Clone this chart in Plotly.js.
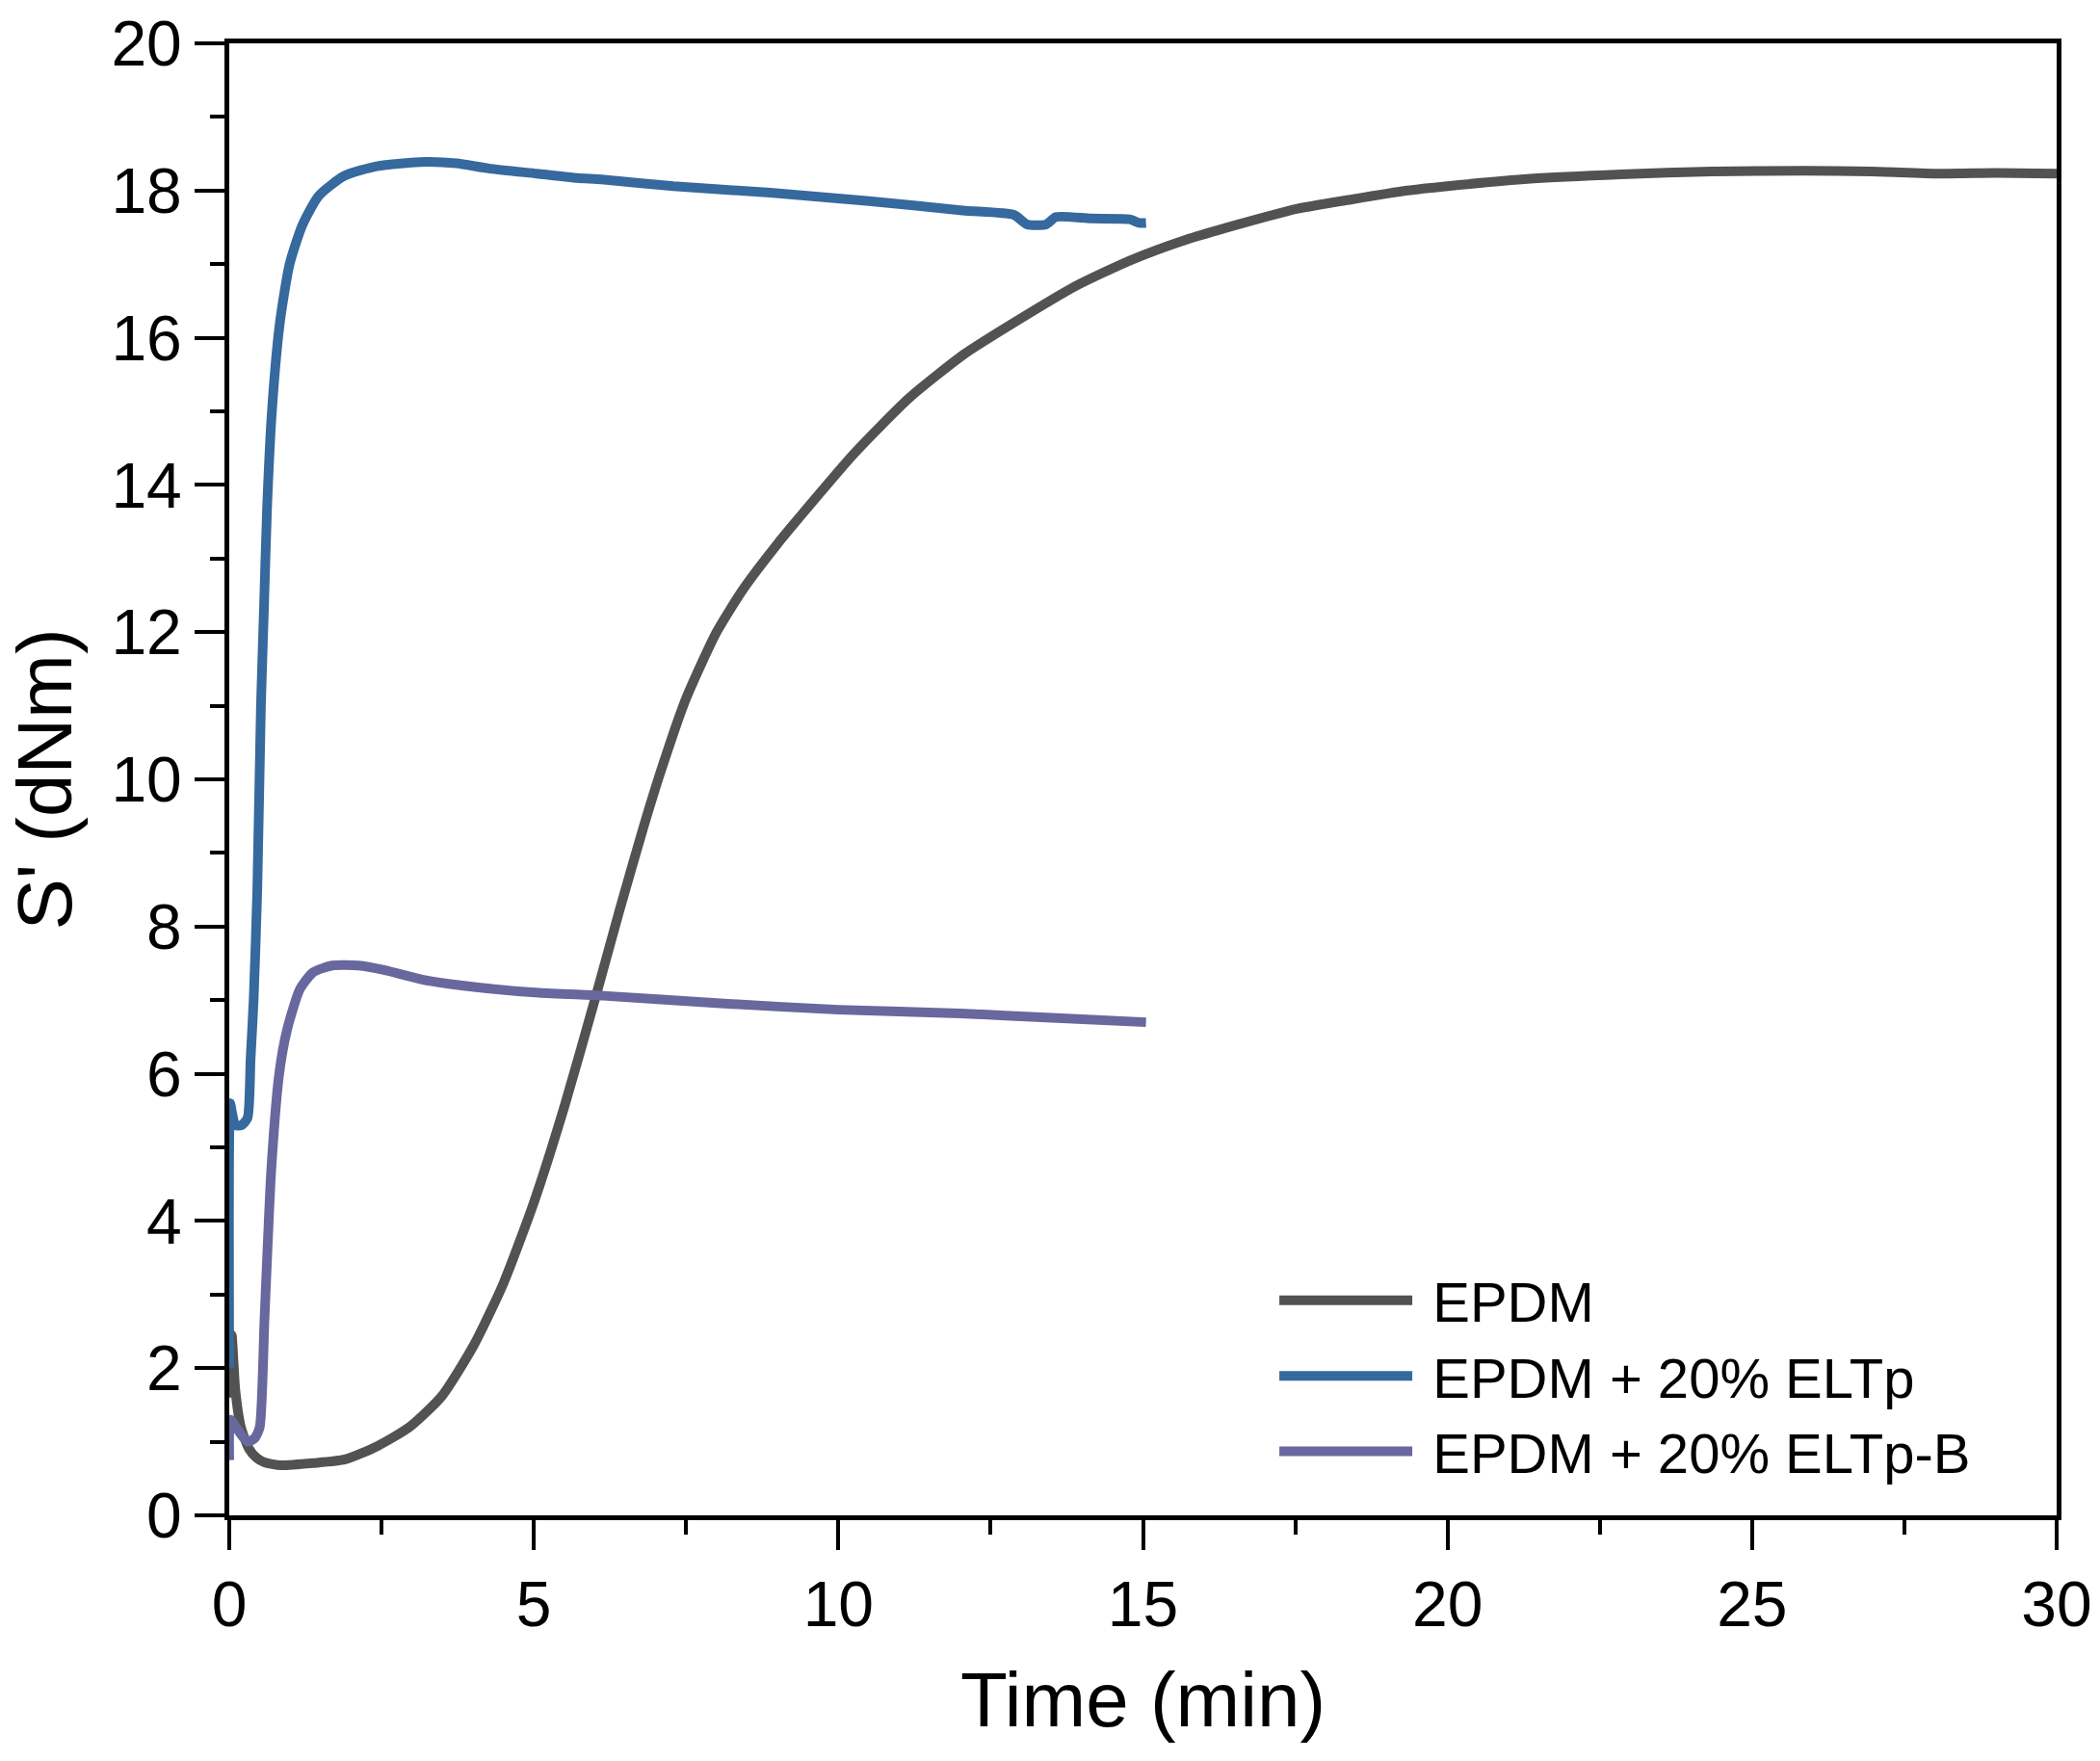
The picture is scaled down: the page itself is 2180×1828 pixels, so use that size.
<!DOCTYPE html>
<html>
<head>
<meta charset="utf-8">
<script src="https://cdn.plot.ly/plotly-3.0.1.min.js"></script>
<style>
  html, body { margin: 0; padding: 0; background: #fff; }
  #chart { width: 2180px; height: 1828px; }
</style>
</head>
<body>
<div id="chart"></div>
<script>
// ── Curvas reométricas S' vs tiempo ─────────────────────────

const FONT = 'Liberation Sans, Arial, sans-serif';

// EPDM
const tEPDM = [0, 0.04, 0.1, 0.19, 0.32, 0.45, 0.58, 0.85, 1.38, 1.9, 2.43, 2.96, 3.49, 4.02,
    4.5, 5.0, 5.5, 6.0, 6.4, 6.8, 7.1, 7.5, 8.0, 8.45, 9.0, 9.35, 10.25, 11.16, 12.07, 12.97,
    13.89, 14.79, 15.7, 16.61, 17.52, 18.43, 19.34, 20.0, 21.36, 22.85, 24.34, 25.84,
    26.96, 28.07, 29.0, 30.0];
const sEPDM = [1.6, 2.45, 1.7, 1.2, 0.91, 0.78, 0.72, 0.68, 0.71, 0.76, 0.94, 1.2, 1.62, 2.32,
    3.15, 4.25, 5.55, 7.0, 8.2, 9.35, 10.15, 11.1, 12.0, 12.6, 13.2, 13.55, 14.42, 15.18, 15.78, 16.25,
    16.7, 17.05, 17.33, 17.55, 17.75, 17.88, 18.0, 18.06, 18.16, 18.22, 18.26, 18.27,
    18.26, 18.23, 18.24, 18.23];

// EPDM + 20% ELTp
const tELTp = [0, 0.015, 0.05, 0.1, 0.2, 0.3, 0.35, 0.4, 0.46, 0.52, 0.57, 0.62, 0.7, 0.83,
    0.99, 1.2, 1.47, 1.89, 2.42, 3.21, 3.73, 4.26, 5.05, 5.71, 6.11, 7.29, 8.88, 10.46,
    12.04, 12.88, 13.1, 13.41, 13.57, 14.15, 14.78, 14.94, 15.05];
const sELTp = [2.0, 5.6, 5.45, 5.3, 5.3, 5.4, 6.2, 7.0, 8.5, 11.0, 12.33, 13.67, 15.0, 16.2,
    17.0, 17.53, 17.93, 18.2, 18.33, 18.39, 18.37, 18.3, 18.23, 18.17, 18.15, 18.06, 17.97, 17.86,
    17.73, 17.67, 17.54, 17.54, 17.64, 17.62, 17.61, 17.56, 17.56];

// EPDM + 20% ELTp-B
const tELTpB = [0, 0.02, 0.15, 0.3, 0.42, 0.5, 0.58, 0.69, 0.82, 0.95, 1.16, 1.38, 1.69,
    2.12, 2.54, 3.17, 4.02, 5.08, 6.14, 8.0, 10.0, 12.0, 13.5, 15.05];
const sELTpB = [0.75, 1.3, 1.15, 1.0, 1.05, 1.2, 2.7, 4.7, 6.0, 6.6, 7.15, 7.38, 7.47,
    7.47, 7.41, 7.28, 7.18, 7.1, 7.06, 6.96, 6.87, 6.82, 6.76, 6.7];

const series = [
    { name: 'EPDM',               x: tEPDM,  y: sEPDM,  color: '#525252' },
    { name: 'EPDM + 20% ELTp',    x: tELTp,  y: sELTp,  color: '#36699d' },
    { name: 'EPDM + 20% ELTp-B',  x: tELTpB, y: sELTpB, color: '#68679e' },
];

const traces = series.map(s => ({
    type: 'scatter',
    mode: 'lines',
    name: '\u00A0' + s.name,   // pequeño hueco entre la línea y el texto de la leyenda
    x: s.x,
    y: s.y,
    line: { color: s.color, width: 10, shape: 'spline', smoothing: 0.6 },
}));

const ejeBase = {
    showline: true, linecolor: '#000', linewidth: 5, mirror: true,
    showgrid: false, zeroline: false,
    ticks: 'outside', ticklen: 31, tickwidth: 4, tickcolor: '#000',
    tickfont: { size: 66, family: FONT, color: '#000' },
};

const layout = {
    width: 2180, height: 1828,
    paper_bgcolor: '#fff', plot_bgcolor: '#fff',
    margin: { l: 238, r: 45, t: 45, b: 255 },
    font: { family: FONT, color: '#000' },
    xaxis: Object.assign({}, ejeBase, {
        range: [0, 30], dtick: 5, tick0: 0,
        minor: { dtick: 2.5, ticks: 'outside', ticklen: 15, tickwidth: 4, tickcolor: '#000' },
        title: { text: 'Time (min)', font: { size: 80, family: FONT, color: '#000' }, standoff: 36 },
    }),
    yaxis: Object.assign({}, ejeBase, {
        range: [0, 20], dtick: 2, tick0: 0,
        minor: { dtick: 1, ticks: 'outside', ticklen: 15, tickwidth: 4, tickcolor: '#000' },
        title: { text: "S' (dNm)", font: { size: 80, family: FONT, color: '#000' }, standoff: 16 },
    }),
    showlegend: true,
    legend: {
        x: 0.572, y: 0.175, xanchor: 'left', yanchor: 'top',
        bgcolor: 'rgba(0,0,0,0)', borderwidth: 0,
        font: { size: 58, family: FONT, color: '#000' },
        itemwidth: 138,
        tracegroupgap: 0,
    },
};

Plotly.newPlot('chart', traces, layout, { displayModeBar: false, staticPlot: true });
</script>
</body>
</html>
